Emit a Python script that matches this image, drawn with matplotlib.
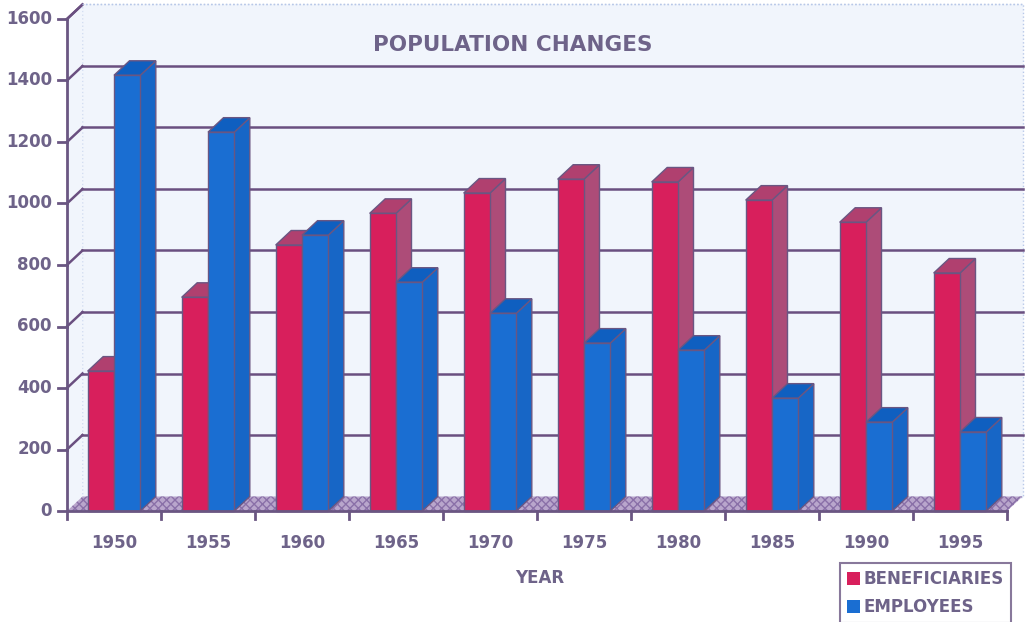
import matplotlib
matplotlib.use("Agg")
import matplotlib.pyplot as plt
from matplotlib.patches import Polygon, Rectangle, Patch

# ---- data ----
years = ["1950", "1955", "1960", "1965", "1970", "1975", "1980", "1985", "1990", "1995"]
beneficiaries = [455, 695, 865, 968, 1034, 1079, 1070, 1011, 939, 774]
employees = [1417, 1232, 897, 744, 643, 546, 523, 367, 289, 257]
y_ticks = [0, 200, 400, 600, 800, 1000, 1200, 1400, 1600]
title = "POPULATION CHANGES"
x_title = "YEAR"
series_names = ["BENEFICIARIES", "EMPLOYEES"]

# ---- style ----
TXT = "#6e6389"
EDGE = "#6a5682"
GRID = "#6a4f80"
WALL = "#f1f5fc"
RED_F, RED_T, RED_S = "#d81f5c", "#b0406f", "#ad4c78"
BLU_F, BLU_T, BLU_S = "#1a6ed2", "#0f5fc0", "#1766c6"

W, H = 1032, 622
fig = plt.figure(figsize=(W / 100, H / 100), dpi=100)
ax = fig.add_axes([0, 0, 1, 1])
# pixel mapping: x=0 at px 67, 94 px per category; v=0 at py 511, 0.3075 px per unit
px_per_cat = 94.0
px_per_val = 0.3075
ax.set_xlim(-67 / px_per_cat, (W - 67) / px_per_cat)
ax.set_ylim(-(H - 511) / px_per_val, 511 / px_per_val)
ax.axis("off")

n = len(years)
dx = 15.5 / px_per_cat
dy = 14.5 / px_per_val
ymax = y_ticks[-1]

# back wall
ax.add_patch(Rectangle((dx, dy), n, ymax, facecolor=WALL, edgecolor="#b8c8e8",
                       lw=1, ls=":", zorder=1))
# left wall
ax.add_patch(Polygon([(0, 0), (dx, dy), (dx, ymax + dy), (0, ymax)],
                     closed=True, facecolor=WALL, edgecolor="none", zorder=1))
# floor
ax.add_patch(Polygon([(0, 0), (n, 0), (n + dx, dy), (dx, dy)], closed=True,
                     facecolor="#b9a6cc", edgecolor="#8a70a8", hatch="xxxx",
                     lw=0, zorder=1.5))

# gridlines on back wall + diagonals on left wall
for v in y_ticks[1:]:
    if v < ymax:
        ax.plot([dx, n + dx], [v + dy, v + dy], color=GRID, lw=1.8, zorder=2)
    ax.plot([0, dx], [v, v + dy], color=GRID, lw=1.8, zorder=2)
ax.plot([0, dx], [ymax, ymax + dy], color=GRID, lw=1.8, zorder=2)
ax.plot([dx, n + dx], [ymax + dy, ymax + dy], color="#b8c8e8", lw=1, ls=":", zorder=2)

# bars
bw = 0.28


def bar3d(x0, v, fc, tc, sc, z):
    x1 = x0 + bw
    ax.add_patch(Polygon([(x1, 0), (x1 + dx, dy), (x1 + dx, v + dy), (x1, v)],
                         closed=True, facecolor=sc, edgecolor=EDGE, lw=1, zorder=z))
    ax.add_patch(Polygon([(x0, v), (x0 + dx, v + dy), (x1 + dx, v + dy), (x1, v)],
                         closed=True, facecolor=tc, edgecolor=EDGE, lw=1, zorder=z))
    ax.add_patch(Rectangle((x0, 0), bw, v, facecolor=fc, edgecolor=EDGE, lw=1, zorder=z))


for i in range(n):
    c = i + 0.5
    bar3d(c - bw, beneficiaries[i], RED_F, RED_T, RED_S, 3 + 2 * i)
    bar3d(c, employees[i], BLU_F, BLU_T, BLU_S, 4 + 2 * i)

# front axes
ax.plot([0, 0], [0, ymax], color=EDGE, lw=2, zorder=30)
ax.plot([0, n], [0, 0], color=EDGE, lw=2, zorder=30)
tick_x = 9 / px_per_cat
tick_y = 8 / px_per_val
for v in y_ticks:
    ax.plot([-tick_x, 0], [v, v], color=EDGE, lw=2, zorder=30)
    ax.text(-15 / px_per_cat, v, str(v), ha="right", va="center", color=TXT,
            fontsize=12, fontweight="bold", family="DejaVu Sans")
for i in range(n + 1):
    ax.plot([i, i], [0, -tick_y], color=EDGE, lw=2, zorder=30)
for i, yr in enumerate(years):
    ax.text(i + 0.5, -32 / px_per_val, yr, ha="center", va="center", color=TXT,
            fontsize=12, fontweight="bold", family="DejaVu Sans")

ax.text((540 - 67) / px_per_cat, -(578 - 511) / px_per_val, x_title, ha="center",
        va="center", color=TXT, fontsize=12, fontweight="bold", family="DejaVu Sans")
ax.text((513 - 67) / px_per_cat, (511 - 45) / px_per_val, title, ha="center",
        va="center", color=TXT, fontsize=15.5, fontweight="bold", family="DejaVu Sans")

# legend
handles = [Patch(facecolor=RED_F, edgecolor="none"), Patch(facecolor=BLU_F, edgecolor="none")]
leg = fig.legend(handles, series_names, loc="upper left",
                 bbox_to_anchor=(832 / W, 1 - 555 / H), frameon=True, fancybox=False,
                 edgecolor=EDGE, handlelength=0.8, handleheight=0.8, handletextpad=0.2,
                 borderpad=0.4, labelspacing=0.6, prop={"weight": "bold", "size": 12,
                                                         "family": "DejaVu Sans"})
leg.get_frame().set_linewidth(1.5)
for t in leg.get_texts():
    t.set_color(TXT)

fig.savefig("out.png", dpi=100, facecolor="white")
